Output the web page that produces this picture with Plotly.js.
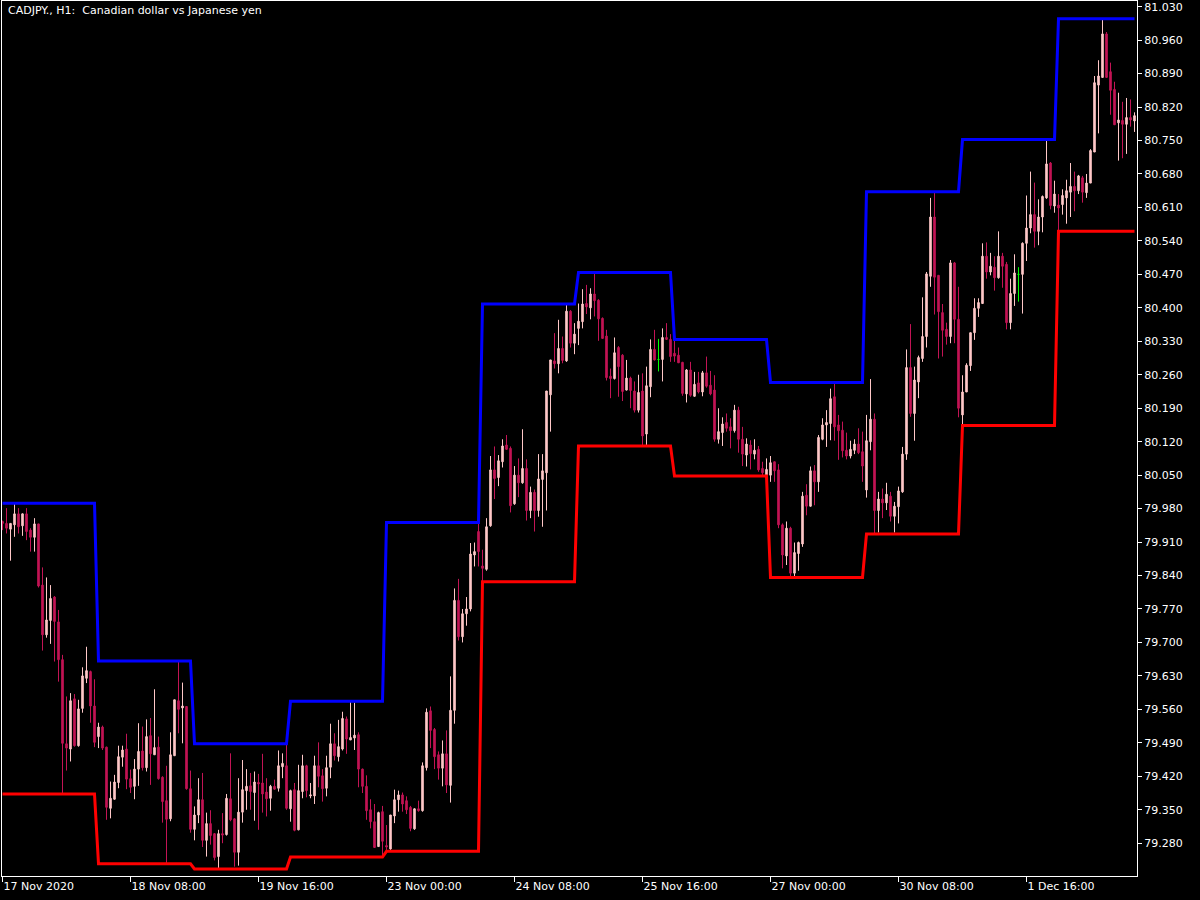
<!DOCTYPE html>
<html>
<head>
<meta charset="utf-8">
<script src="https://cdn.plot.ly/plotly-3.0.1.min.js"></script>
<style>
html,body{margin:0;padding:0;background:#000;}
#chart{width:1200px;height:900px;}
</style>
</head>
<body>
<div id="chart"></div>
<script>
// Hourly CADJPY bars, index 0 = 17 Nov 2020 00:00
const openP = [
79.953,79.949,79.937,79.946,79.969,79.944,79.969,79.935,79.920,79.948,79.820,79.716,
79.746,79.795,79.743,79.664,79.488,79.477,79.582,79.484,79.562,79.625,79.639,79.567,
79.503,79.523,79.481,79.353,79.372,79.407,79.460,79.477,79.415,79.399,79.435,79.473,
79.438,79.505,79.465,79.481,79.418,79.369,79.331,79.463,79.578,79.563,79.566,79.394,
79.309,79.339,79.371,79.286,79.321,79.300,79.252,79.300,79.298,79.373,79.331,79.261,
79.345,79.390,79.400,79.386,79.407,79.406,79.387,79.374,79.399,79.395,79.440,79.442,
79.352,79.392,79.308,79.388,79.442,79.379,79.379,79.442,79.421,79.395,79.439,79.488,
79.461,79.477,79.540,79.496,79.500,79.507,79.435,79.399,79.350,79.325,79.273,79.346,
79.275,79.268,79.337,79.371,79.381,79.369,79.355,79.310,79.352,79.348,79.438,79.557,
79.518,79.465,79.437,79.467,79.401,79.558,79.788,79.712,79.760,79.770,79.883,79.932,
79.860,79.853,79.944,80.061,80.045,80.078,80.113,80.106,79.990,80.050,80.034,80.064,
79.976,80.014,79.976,80.041,80.055,80.218,80.289,80.283,80.315,80.289,80.393,80.326,
80.357,80.371,80.409,80.400,80.429,80.416,80.378,80.341,80.257,80.252,80.317,80.301,
80.228,80.253,80.226,80.186,80.226,80.136,80.235,80.313,80.292,80.292,80.338,80.334,
80.305,80.301,80.286,80.220,80.270,80.215,80.243,80.224,80.264,80.238,80.228,80.125,
80.139,80.160,80.151,80.143,80.186,80.125,80.092,80.113,80.094,80.104,80.064,80.050,
80.050,80.078,80.061,79.946,79.881,79.939,79.845,79.886,79.906,80.008,79.985,80.059,
80.036,80.125,80.155,80.158,80.214,80.155,80.144,80.102,80.090,80.102,80.115,80.099,
80.019,80.120,80.167,79.976,80.000,79.992,80.006,79.964,79.984,80.015,80.094,80.275,
80.179,80.245,80.294,80.340,80.466,80.590,80.468,80.390,80.355,80.340,80.494,80.376,
80.176,80.224,80.279,80.348,80.399,80.409,80.508,80.475,80.485,80.463,80.508,80.491,
80.369,80.430,80.470,80.470,80.535,80.567,80.595,80.560,80.590,80.630,80.703,80.613,
80.615,80.616,80.630,80.642,80.654,80.645,80.672,80.641,80.661,80.726,80.866,80.882,
80.973,80.894,80.857,80.787,80.792,80.784,80.798,80.791
];
const highP = [
79.955,79.981,79.949,79.990,79.981,79.970,79.981,79.939,79.960,79.948,79.857,79.836,
79.820,79.797,79.768,79.674,79.587,79.594,79.592,79.580,79.648,79.691,79.641,79.623,
79.532,79.526,79.482,79.409,79.423,79.484,79.484,79.509,79.434,79.456,79.531,79.524,
79.539,79.542,79.602,79.503,79.420,79.442,79.512,79.580,79.661,79.616,79.567,79.432,
79.357,79.416,79.427,79.344,79.349,79.301,79.308,79.343,79.383,79.468,79.332,79.416,
79.454,79.435,79.427,79.430,79.425,79.467,79.416,79.402,79.413,79.474,79.468,79.489,
79.392,79.406,79.444,79.465,79.444,79.406,79.463,79.491,79.435,79.463,79.530,79.510,
79.538,79.555,79.545,79.576,79.574,79.512,79.436,79.422,79.372,79.362,79.346,79.358,
79.318,79.339,79.392,79.390,79.386,79.378,79.358,79.353,79.369,79.449,79.562,79.566,
79.521,79.472,79.495,79.516,79.629,79.813,79.833,79.770,79.795,79.908,79.909,79.951,
79.894,79.960,80.090,80.110,80.092,80.125,80.134,80.110,80.069,80.085,80.146,80.083,
80.026,80.020,80.094,80.094,80.226,80.291,80.347,80.375,80.340,80.408,80.395,80.368,
80.409,80.439,80.448,80.441,80.474,80.418,80.380,80.354,80.273,80.338,80.320,80.303,
80.291,80.256,80.246,80.260,80.263,80.277,80.334,80.354,80.335,80.357,80.368,80.345,
80.334,80.317,80.287,80.272,80.287,80.266,80.266,80.268,80.298,80.268,80.259,80.190,
80.171,80.179,80.169,80.197,80.193,80.151,80.127,80.123,80.125,80.111,80.078,80.085,
80.090,80.078,80.073,79.949,79.953,79.942,79.909,79.911,80.015,80.031,80.068,80.071,
80.134,80.169,80.186,80.231,80.244,80.176,80.162,80.139,80.122,80.125,80.148,80.141,
80.176,80.251,80.179,80.015,80.022,80.034,80.015,79.994,80.026,80.109,80.313,80.366,
80.277,80.300,80.422,80.475,80.630,80.643,80.468,80.408,80.369,80.500,80.496,80.444,
80.259,80.284,80.348,80.420,80.420,80.535,80.537,80.515,80.508,80.560,80.515,80.496,
80.461,80.512,80.485,80.537,80.635,80.685,80.662,80.627,80.635,80.752,80.705,80.666,
80.638,80.648,80.668,80.703,80.685,80.678,80.676,80.680,80.732,80.885,80.918,81.005,
80.977,80.913,80.873,80.850,80.831,80.839,80.836,80.809
];
const lowP = [
79.935,79.928,79.871,79.921,79.928,79.923,79.914,79.890,79.890,79.815,79.683,79.710,
79.697,79.660,79.618,79.383,79.432,79.451,79.482,79.482,79.553,79.615,79.532,79.481,
79.479,79.475,79.329,79.332,79.371,79.395,79.440,79.393,79.385,79.372,79.400,79.432,
79.430,79.402,79.465,79.413,79.323,79.237,79.326,79.463,79.510,79.489,79.392,79.302,
79.286,79.322,79.272,79.252,79.277,79.244,79.226,79.280,79.296,79.326,79.231,79.233,
79.323,79.350,79.350,79.327,79.308,79.344,79.336,79.348,79.392,79.388,79.416,79.350,
79.325,79.305,79.307,79.374,79.376,79.374,79.362,79.397,79.367,79.378,79.416,79.453,
79.451,79.474,79.467,79.496,79.475,79.397,79.385,79.329,79.311,79.270,79.273,79.251,
79.263,79.266,79.322,79.346,79.346,79.341,79.305,79.308,79.346,79.346,79.432,79.479,
79.435,79.413,79.399,79.385,79.365,79.530,79.704,79.700,79.735,79.765,79.859,79.859,
79.827,79.850,79.942,80.000,80.027,80.066,80.103,79.972,79.988,80.004,80.032,79.955,
79.960,79.932,79.963,79.942,79.976,80.141,80.273,80.263,80.284,80.287,80.317,80.303,
80.322,80.357,80.387,80.376,80.382,80.331,80.336,80.248,80.211,80.250,80.214,80.205,
80.227,80.190,80.181,80.181,80.111,80.113,80.213,80.290,80.267,80.246,80.333,80.287,
80.287,80.285,80.216,80.202,80.214,80.214,80.221,80.215,80.233,80.217,80.120,80.116,
80.111,80.141,80.106,80.139,80.097,80.069,80.068,80.062,80.083,80.057,80.050,80.048,
80.036,80.036,79.939,79.855,79.862,79.836,79.839,79.850,79.900,79.966,79.984,79.987,
80.015,80.123,80.109,80.123,80.122,80.082,80.087,80.083,80.085,80.094,80.094,80.036,
80.003,80.102,79.927,79.930,79.960,79.977,79.953,79.930,79.949,80.013,80.082,80.172,
80.122,80.211,80.287,80.317,80.444,80.386,80.294,80.298,80.323,80.326,80.326,80.171,
80.154,80.224,80.268,80.333,80.381,80.408,80.461,80.468,80.436,80.461,80.442,80.355,
80.355,80.404,80.413,80.388,80.498,80.556,80.526,80.531,80.558,80.628,80.606,80.599,
80.560,80.595,80.576,80.590,80.602,80.638,80.620,80.630,80.661,80.726,80.765,80.882,
80.882,80.804,80.783,80.708,80.713,80.722,80.779,80.768
];
const closeP = [
79.949,79.939,79.949,79.969,79.942,79.969,79.932,79.920,79.948,79.818,79.716,79.747,
79.792,79.744,79.664,79.489,79.479,79.578,79.484,79.561,79.630,79.641,79.567,79.491,
79.523,79.479,79.355,79.374,79.408,79.461,79.475,79.414,79.397,79.435,79.472,79.438,
79.503,79.467,79.480,79.415,79.367,79.330,79.465,79.580,79.560,79.567,79.394,79.309,
79.339,79.371,79.286,79.321,79.296,79.250,79.300,79.297,79.374,79.329,79.261,79.345,
79.392,79.399,79.388,79.408,79.404,79.383,79.373,79.399,79.393,79.442,79.447,79.353,
79.390,79.307,79.390,79.442,79.390,79.381,79.442,79.420,79.394,79.438,79.488,79.463,
79.482,79.541,79.498,79.501,79.506,79.435,79.399,79.348,79.325,79.271,79.344,79.284,
79.272,79.339,79.371,79.381,79.362,79.350,79.311,79.352,79.348,79.442,79.554,79.516,
79.461,79.437,79.467,79.402,79.558,79.788,79.712,79.760,79.770,79.885,79.890,79.890,
79.855,79.942,80.061,80.043,80.080,80.111,80.104,79.986,80.050,80.034,80.064,79.976,
80.014,79.976,80.042,80.059,80.226,80.291,80.283,80.315,80.290,80.393,80.326,80.345,
80.372,80.408,80.402,80.429,80.415,80.377,80.336,80.254,80.252,80.306,80.277,80.225,
80.253,80.227,80.186,80.223,80.132,80.237,80.313,80.291,80.292,80.338,80.334,80.298,
80.299,80.285,80.221,80.270,80.217,80.240,80.224,80.264,80.236,80.220,80.125,80.141,
80.157,80.148,80.143,80.186,80.125,80.094,80.115,80.095,80.102,80.061,80.055,80.062,
80.076,80.059,79.946,79.883,79.939,79.845,79.888,79.909,80.006,79.985,80.059,80.036,
80.129,80.155,80.160,80.210,80.151,80.143,80.101,80.090,80.104,80.115,80.097,80.069,
80.122,80.167,79.976,80.000,79.992,80.010,79.964,79.985,80.017,80.094,80.275,80.179,
80.249,80.296,80.340,80.471,80.590,80.464,80.392,80.353,80.340,80.494,80.376,80.190,
80.224,80.280,80.348,80.399,80.411,80.508,80.475,80.487,80.463,80.508,80.487,80.369,
80.430,80.473,80.470,80.535,80.567,80.595,80.560,80.590,80.633,80.701,80.614,80.638,
80.609,80.635,80.645,80.654,80.645,80.676,80.642,80.661,80.729,80.871,80.885,80.973,
80.882,80.855,80.783,80.793,80.784,80.798,80.793,80.802
];
// Daily high / low levels (one per trading day, 24 bars each)
const dayHigh = [79.991,79.661,79.488,79.577,79.951,80.408,80.474,80.334,80.244,80.643,80.752,81.005];
const dayLow  = [79.383,79.237,79.226,79.251,79.263,79.827,80.111,80.048,79.836,79.927,80.154,80.560];
const tickBars = [0,32,64,96,128,160,192,224,256];
const tickLabels = ["17 Nov 2020","18 Nov 08:00","19 Nov 16:00","23 Nov 00:00","24 Nov 08:00","25 Nov 16:00","27 Nov 00:00","30 Nov 08:00","1 Dec 16:00"];
const chartTitle = "CADJPY., H1:\u00a0 Canadian dollar vs Japanese yen";

const BULL = "#FFC8C8", BEAR = "#C31455", DOJI = "#00FF00";
const n = closeP.length;
const xs = [], nx = [], no = [], nh = [], nl = [], nc = [];
const dx = [], dopen = [], dh = [], dl = [], dc = [];
for (let i = 0; i < n; i++) {
  xs.push(i);
  if (openP[i] === closeP[i]) { dx.push(i); dopen.push(openP[i]); dh.push(highP[i]); dl.push(lowP[i]); dc.push(closeP[i]); }
  else { nx.push(i); no.push(openP[i]); nh.push(highP[i]); nl.push(lowP[i]); nc.push(closeP[i]); }
}
const upLine = xs.map(i => dayHigh[Math.floor(i / 24)]);
const dnLine = xs.map(i => dayLow[Math.floor(i / 24)]);

const font = {family: "DejaVu Sans, sans-serif", size: 11, color: "#FFFFFF"};
const traces = [
  {type: "candlestick", x: nx, open: no, high: nh, low: nl, close: nc,
   increasing: {line: {color: BULL, width: 1}, fillcolor: BULL},
   decreasing: {line: {color: BEAR, width: 1}, fillcolor: BEAR},
   whiskerwidth: 0, hoverinfo: "skip", showlegend: false},
  {type: "candlestick", x: dx, open: dopen, high: dh, low: dl, close: dc,
   increasing: {line: {color: DOJI, width: 1}, fillcolor: DOJI},
   decreasing: {line: {color: DOJI, width: 1}, fillcolor: DOJI},
   whiskerwidth: 0, hoverinfo: "skip", showlegend: false},
  {type: "scatter", mode: "lines", x: xs, y: upLine, line: {color: "#0000FF", width: 3}, hoverinfo: "skip", showlegend: false},
  {type: "scatter", mode: "lines", x: xs, y: dnLine, line: {color: "#FF0000", width: 3}, hoverinfo: "skip", showlegend: false}
];
const layout = {
  width: 1200, height: 900,
  paper_bgcolor: "#000000", plot_bgcolor: "#000000",
  margin: {l: 2, r: 63, t: 1, b: 24, pad: 0},
  font: font,
  showlegend: false,
  boxgap: 0.45,
  xaxis: {
    range: [-0.125, 283.625], fixedrange: true,
    rangeslider: {visible: false},
    tickmode: "array", tickvals: tickBars, ticktext: tickLabels,
    ticks: "outside", ticklen: 5, tickcolor: "#FFFFFF", tickwidth: 1,
    ticklabelposition: "outside right",
    showgrid: false, zeroline: false,
    showline: true, linecolor: "#FFFFFF", linewidth: 1, mirror: true,
    tickfont: font
  },
  yaxis: {
    side: "right", range: [79.2114, 81.0419], fixedrange: true,
    tick0: 79.28, dtick: 0.07, tickformat: ".3f",
    ticks: "outside", ticklen: 4, tickcolor: "#FFFFFF", tickwidth: 1,
    showgrid: false, zeroline: false,
    showline: true, linecolor: "#FFFFFF", linewidth: 1, mirror: true,
    tickfont: font
  },
  annotations: [{
    text: chartTitle, xref: "paper", yref: "paper", x: 0, y: 1,
    xanchor: "left", yanchor: "top", xshift: 4, yshift: -1,
    showarrow: false, font: font
  }]
};
Plotly.newPlot("chart", traces, layout, {displayModeBar: false, staticPlot: true});
</script>
</body>
</html>
